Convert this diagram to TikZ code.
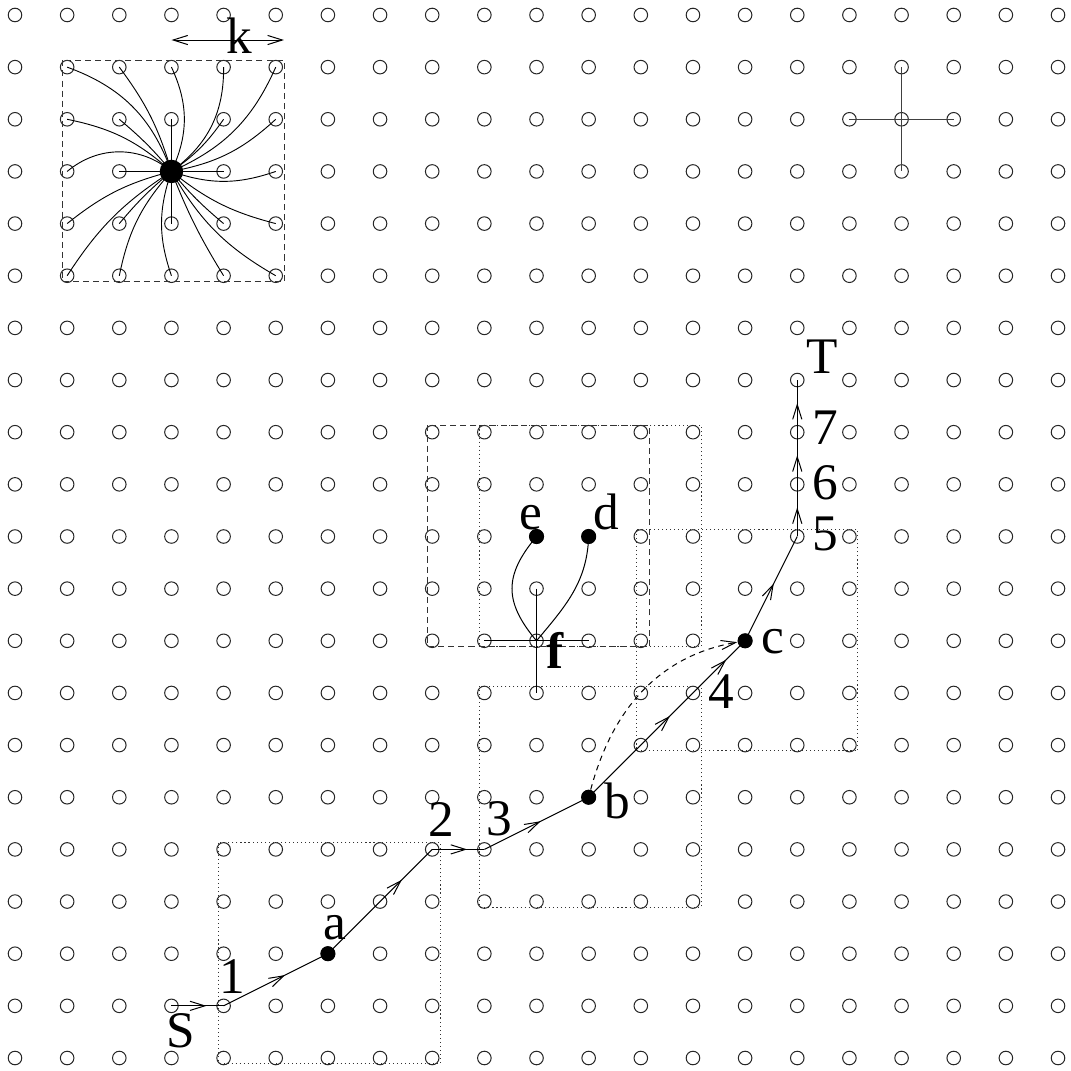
\documentclass[tikz,border=0pt]{standalone}
\usepackage{fontspec}
\setmainfont{Liberation Serif}
\usetikzlibrary{arrows.meta,decorations.markings}
\begin{document}
\begin{tikzpicture}[
  gridpt/.style={circle,draw=black!85,line width=0.55pt,minimum size=0.26cm,inner sep=0pt},
  dotnode/.style={circle,fill=black,minimum size=0.29cm,inner sep=0pt},
  hubnode/.style={circle,fill=black,minimum size=0.45cm,inner sep=0pt},
  lbl/.style={font=\fontsize{28}{28}\selectfont,inner sep=0pt,anchor=base},
  seg/.style={line width=0.55pt},
  hubline/.style={line width=0.5pt},
  mybarb/.tip={Straight Barb[length=8pt,width=5pt]},
  midarrow/.style={postaction={decorate,decoration={markings,mark=at position #1 with {\arrow{mybarb}}}}},
  dashbox/.style={dash pattern=on 3.3pt off 2.2pt,line width=0.45pt,draw=black!80},
  dotbox/.style={dash pattern=on 0.6pt off 1.6pt,line width=0.55pt,draw=black!80},
]
\useasboundingbox (-0.2876,-0.230) rectangle (20.249,20.2876);

% grid of circles
\foreach \x in {0,...,20}{
  \foreach \y in {0,...,20}{
    \node[gridpt] (g-\x-\y) at (\x,\y) {};
  }
}

% boxes
\draw[dashbox] (0.91,19.13) rectangle (5.16,14.89);
\draw[dashbox] (7.91,12.13) rectangle (12.16,7.89);
\draw[dotbox] (3.91,4.13) rectangle (8.16,-0.11);
\draw[dotbox] (8.91,7.13) rectangle (13.16,2.89);
\draw[dotbox] (11.91,10.13) rectangle (16.16,5.89);
\draw[dotbox] (8.91,12.13) rectangle (13.16,7.89);

% hub with curves
\node[hubnode] (hub) at (3,17) {};
\foreach \tx/\ty/\bb in {1/19/25, 2/19/10, 3/19/25, 4/19/27, 5/19/21, 5/18/16, 5/17/19, 5/16/12,
                         5/15/15, 4/15/5, 3/15/19, 2/15/15, 1/15/12, 1/16/12, 1/17/40, 1/18/15,
                         2/18/5, 4/18/10, 4/16/5, 2/16/5}{
  \draw[hubline] (hub.center) to[bend right=\bb] (g-\tx-\ty.center);
}
\foreach \tx/\ty in {2/17, 4/17, 3/18, 3/16}{
  \draw[hubline] (hub.center) -- (g-\tx-\ty.center);
}

% k arrow
\coordinate (ka) at (3,19.52);
\coordinate (kb) at (5.158,19.52);
\draw[seg,{Straight Barb[length=8pt,width=5pt]}-{Straight Barb[length=8pt,width=5pt]}] (ka) -- (kb);
\node[lbl] (lk) at (4.295,19.271) {k};

% top-right cross
\draw[seg,black!75] (g-16-18.center) -- (g-18-18.center);
\draw[seg,black!75] (g-17-19.center) -- (g-17-17.center);

% f cross and curves
\node[dotnode] (e) at (10,10) {};
\node[dotnode] (d) at (11,10) {};
\draw[seg] (g-9-8.center) -- (g-11-8.center);
\draw[seg] (g-10-9.center) -- (g-10-7.center);
\draw[seg] (g-10-8.center) to[out=130,in=-130,looseness=1.25] (e.center);
\draw[seg] (g-10-8.center) to[out=50,in=-92] (d.center);

% main path
\node[dotnode] (a) at (6,2) {};
\node[dotnode] (b) at (11,5) {};
\node[dotnode] (c) at (14,8) {};
\draw[seg,midarrow=0.67] (g-3-1.center) -- (g-4-1.center);
\draw[seg,midarrow=0.59] (g-4-1.center) -- (a.center);
\draw[seg,midarrow=0.71] (a.center) -- (g-8-4.center);
\draw[seg,midarrow=0.67] (g-8-4.center) -- (g-9-4.center);
\draw[seg,midarrow=0.54] (g-9-4.center) -- (b.center);
\draw[seg,midarrow=0.52,midarrow=0.88] (b.center) -- (c.center);
\draw[seg,midarrow=0.55] (c.center) -- (g-15-10.center);
\draw[seg,midarrow=0.56] (g-15-10.center) -- (g-15-11.center);
\draw[seg,midarrow=0.56] (g-15-11.center) -- (g-15-12.center);
\draw[seg,midarrow=0.56] (g-15-12.center) -- (g-15-13.center);

% dashed curve b -> c
\draw[seg,dash pattern=on 3pt off 2.5pt,-{Straight Barb[length=8pt,width=5pt]}] (b) to[out=75,in=190] (c);

% labels
\node[lbl] (lS) at (3.183,0.211) {S};
\node[lbl] (l1) at (4.161,1.246) {1};
\node[lbl] (la) at (6.136,2.263) {a};
\node[lbl] (l2) at (8.169,4.238) {2};
\node[lbl] (l3) at (9.281,4.26) {3};
\node[lbl] (lb) at (11.544,4.602) {b};
\node[lbl] (l4) at (13.538,6.711) {4};
\node[lbl] (lc) at (14.535,7.766) {c};
\node[lbl] (l5) at (15.532,9.741) {5};
\node[lbl] (l6) at (15.532,10.700) {6};
\node[lbl] (l7) at (15.532,11.755) {7};
\node[lbl] (lT) at (15.474,13.135) {T};
\node[lbl] (ld) at (11.333,10.125) {d};
\node[lbl] (le) at (9.895,10.125) {e};
\node[lbl] (lf) at (10.355,7.478) {\bfseries f};
\end{tikzpicture}
\end{document}
